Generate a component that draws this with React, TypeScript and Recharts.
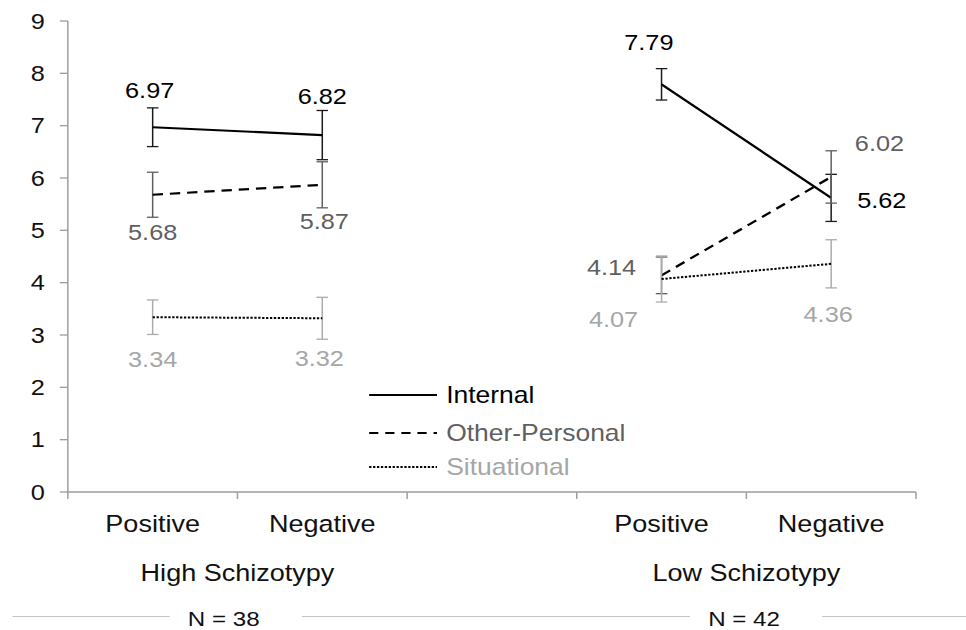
import { LineChart, Line, XAxis, YAxis, ErrorBar, LabelList, Legend } from 'recharts'

// conditions along the x axis; the middle slot is an empty spacer between the two groups
const CATEGORIES = ['High-Positive', 'High-Negative', 'gap', 'Low-Positive', 'Low-Negative']
const TICK_LABELS = ['Positive', 'Negative', '', 'Positive', 'Negative']
const GROUP_OF = [0, 0, null, 1, 1]
const GROUP_NAMES = ['High Schizotypy', 'Low Schizotypy']
const GROUP_N = [38, 42]
const Y_TICKS = [0, 1, 2, 3, 4, 5, 6, 7, 8, 9]

// mean attribution scores and their error margins
const INTERNAL = [6.97, 6.82, null, 7.79, 5.62]
const INTERNAL_ERR = [0.37, 0.47, null, 0.3, 0.45]
const OTHER_PERSONAL = [5.68, 5.87, null, 4.14, 6.02]
const OTHER_PERSONAL_ERR = [0.43, 0.44, null, 0.35, 0.5]
const SITUATIONAL = [3.34, 3.32, null, 4.07, 4.36]
const SITUATIONAL_ERR = [0.33, 0.4, null, 0.44, 0.46]

// the figure is drawn narrow and stretched sideways
const STRETCH = 1.15
const W = 840
const H = 630
const LEFT = 59
const RIGHT = 43.5
const TOP = 21
const X_AXIS_H = 138
const AXIS_Y = H - X_AXIS_H
const HALF_BAND = (W - LEFT - RIGHT) / CATEGORIES.length / 2
const AXIS_COLOR = '#9d9d9d'
const FONT = '"Liberation Sans", Arial, sans-serif'

const N_SHIFT = [-12, -2]

type SeriesStyle = {
  key: string
  errKey: string
  name: string
  dash?: string
  legendDash?: string
  width: number
  errColor: string
  textColor: string
  offsets: (number[] | null)[]
}

const SERIES: SeriesStyle[] = [
  {
    key: 'internal', errKey: 'internalErr', name: 'Internal', width: 2.2,
    errColor: '#1a1a1a', textColor: '#000',
    offsets: [[-2.6, -29], [0, -31], null, [-11, -34], [44, 10]],
  },
  {
    key: 'other', errKey: 'otherErr', name: 'Other-Personal', dash: '9 6', legendDash: '8 6', width: 2.2,
    errColor: '#5f5f5f', textColor: '#5f5f5f',
    offsets: [[0, 45], [1.7, 44], null, [-43.5, 0], [42, -26]],
  },
  {
    key: 'situational', errKey: 'situationalErr', name: 'Situational', dash: '2 1.4', legendDash: '2 1.4', width: 2,
    errColor: '#ababab', textColor: '#a6a6a6',
    offsets: [[0, 50], [-2.6, 48], null, [-41.7, 48], [-2.6, 58]],
  },
]

const data = CATEGORIES.map((key, i) => ({
  key,
  internal: INTERNAL[i],
  internalErr: INTERNAL_ERR[i],
  other: OTHER_PERSONAL[i],
  otherErr: OTHER_PERSONAL_ERR[i],
  situational: SITUATIONAL[i],
  situationalErr: SITUATIONAL_ERR[i],
}))

function CategoryTick(props: any) {
  const { x, payload } = props
  const i: number = payload?.index ?? props.index
  const left = x - HALF_BAND
  const g = GROUP_OF[i]
  const firstOfGroup = g != null && GROUP_OF[i - 1] !== g
  const nx = x + HALF_BAND + (g != null ? N_SHIFT[g] : 0)
  return (
    <g>
      {i === 0 && <line x1={11} x2={W} y1={616.5} y2={616.5} stroke="#c4c4c4" strokeWidth={1} />}
      <line x1={left} x2={left} y1={AXIS_Y} y2={AXIS_Y + 7} stroke={AXIS_COLOR} strokeWidth={1.3} />
      {i === CATEGORIES.length - 1 && (
        <line x1={x + HALF_BAND} x2={x + HALF_BAND} y1={AXIS_Y} y2={AXIS_Y + 7} stroke={AXIS_COLOR} strokeWidth={1.3} />
      )}
      <text x={x} y={532} textAnchor="middle" fontSize={23.5} fill="#111">{TICK_LABELS[i]}</text>
      {firstOfGroup && (
        <>
          <text x={x + HALF_BAND} y={581} textAnchor="middle" fontSize={23.5} fill="#111">
            {GROUP_NAMES[g as number]}
          </text>
          <rect x={nx - 47} y={604} width={115} height={26} fill="#fff" />
          <text x={nx} y={626} textAnchor="middle" fontSize={21} fill="#111">
            {`N = ${GROUP_N[g as number]}`}
          </text>
        </>
      )}
    </g>
  )
}

function makeValueLabel(s: SeriesStyle) {
  return (props: any) => {
    const { value, index } = props
    if (value == null) return null
    const vb = props.viewBox || {}
    const px = props.x ?? vb.x
    const py = props.y ?? vb.y
    const off = s.offsets[index]
    if (px == null || py == null || !off) return null
    return (
      <text x={px + off[0]} y={py + off[1]} textAnchor="middle" fontSize={22} fill={s.textColor}>
        {Number(value).toFixed(2)}
      </text>
    )
  }
}

function SeriesLegend() {
  const rows = [403, 441, 475]
  return (
    <svg width={W} height={H} style={{ fontFamily: FONT }}>
      {SERIES.map((s, i) => (
        <g key={s.key}>
          <line
            x1={321} x2={380} y1={rows[i] - 8} y2={rows[i] - 8}
            stroke="#000" strokeWidth={s.width} strokeDasharray={s.legendDash}
          />
          <text x={388} y={rows[i]} fontSize={23} fill={s.textColor}>{s.name}</text>
        </g>
      ))}
    </svg>
  )
}

export default function App() {
  return (
    <div
      style={{
        position: 'absolute', left: 0, top: 0, width: W, height: H, background: '#fff',
        transform: `scaleX(${STRETCH})`, transformOrigin: 'left top', fontFamily: FONT,
      }}
    >
      <LineChart width={W} height={H} data={data} margin={{ top: TOP, right: RIGHT, left: 0, bottom: 0 }}>
        <XAxis
          dataKey="key"
          scale="band"
          interval={0}
          height={X_AXIS_H}
          tickLine={false}
          axisLine={{ stroke: AXIS_COLOR, strokeWidth: 1.3 }}
          tick={<CategoryTick />}
        />
        <YAxis
          domain={[0, 9]}
          ticks={Y_TICKS}
          width={LEFT}
          tickSize={7}
          tickMargin={13}
          tick={{ fill: '#111', fontSize: 22 }}
          tickLine={{ stroke: AXIS_COLOR, strokeWidth: 1.3 }}
          axisLine={{ stroke: AXIS_COLOR, strokeWidth: 1.3 }}
        />
        <Legend
          layout="vertical"
          align="center"
          verticalAlign="middle"
          wrapperStyle={{ left: 0, top: 0, width: W, height: H, pointerEvents: 'none' }}
          content={() => <SeriesLegend />}
        />
        {SERIES.map((s) => (
          <Line
            key={s.key}
            dataKey={s.key}
            name={s.name}
            type="linear"
            stroke="#000"
            strokeWidth={s.width}
            strokeDasharray={s.dash}
            dot={false}
            activeDot={false}
            isAnimationActive={false}
          >
            <ErrorBar dataKey={s.errKey} direction="y" width={5} stroke={s.errColor} strokeWidth={1.3} isAnimationActive={false} />
            <LabelList dataKey={s.key} content={makeValueLabel(s)} />
          </Line>
        ))}
      </LineChart>
    </div>
  )
}
